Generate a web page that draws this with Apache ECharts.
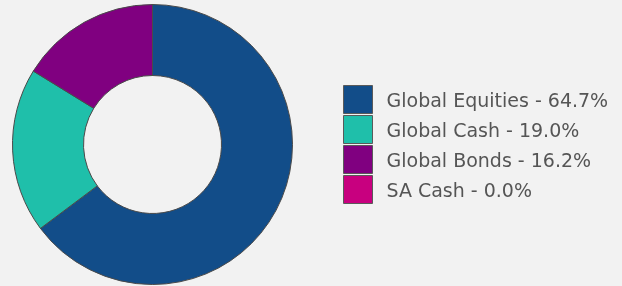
<!DOCTYPE html>
<html>
<head>
<meta charset="utf-8">
<script src="https://cdn.jsdelivr.net/npm/echarts@6/dist/echarts.min.js"></script>
<style>
  html, body { margin: 0; padding: 0; background: #f2f2f2; }
  #chart { width: 622px; height: 286px; }
</style>
</head>
<body>
<div id="chart"></div>
<script>
// asset allocation
var names = ['Global Equities', 'Global Cash', 'Global Bonds', 'SA Cash'];
var values = [64.7, 19.0, 16.2, 0.0];
var colors = ['#124d89', '#1fbfaa', '#800080', '#c8007f'];

var chart = echarts.init(document.getElementById('chart'));

var data = names.map(function (n, i) {
  return { name: n, value: values[i], itemStyle: { color: colors[i] } };
});

chart.setOption({
  backgroundColor: '#f2f2f2',
  animation: false,
  legend: {
    orient: 'vertical',
    left: 343,
    top: 85,
    padding: 0,
    itemWidth: 29,
    itemHeight: 28,
    itemGap: 1,
    icon: 'rect',
    selectedMode: false,
    itemStyle: { borderColor: '#5a5a5a', borderWidth: 1 },
    textStyle: {
      color: '#555', fontSize: 19, fontFamily: 'DejaVu Sans', padding: [0, 0, 0, 9],
      rich: {
        t: { color: '#555', fontSize: 19, fontFamily: 'DejaVu Sans', padding: [6, 0, 0, 0] }
      }
    },
    formatter: function (name) {
      var i = names.indexOf(name);
      return '{t|' + name + ' - ' + values[i].toFixed(1) + '%}';
    },
    data: names
  },
  series: [{
    type: 'pie',
    center: [152.5, 144.5],
    radius: [69, 140],
    startAngle: 90,
    label: { show: false },
    labelLine: { show: false },
    emphasis: { disabled: true },
    itemStyle: { borderColor: '#4a4a4a', borderWidth: 1 },
    data: data
  }]
});
</script>
</body>
</html>
